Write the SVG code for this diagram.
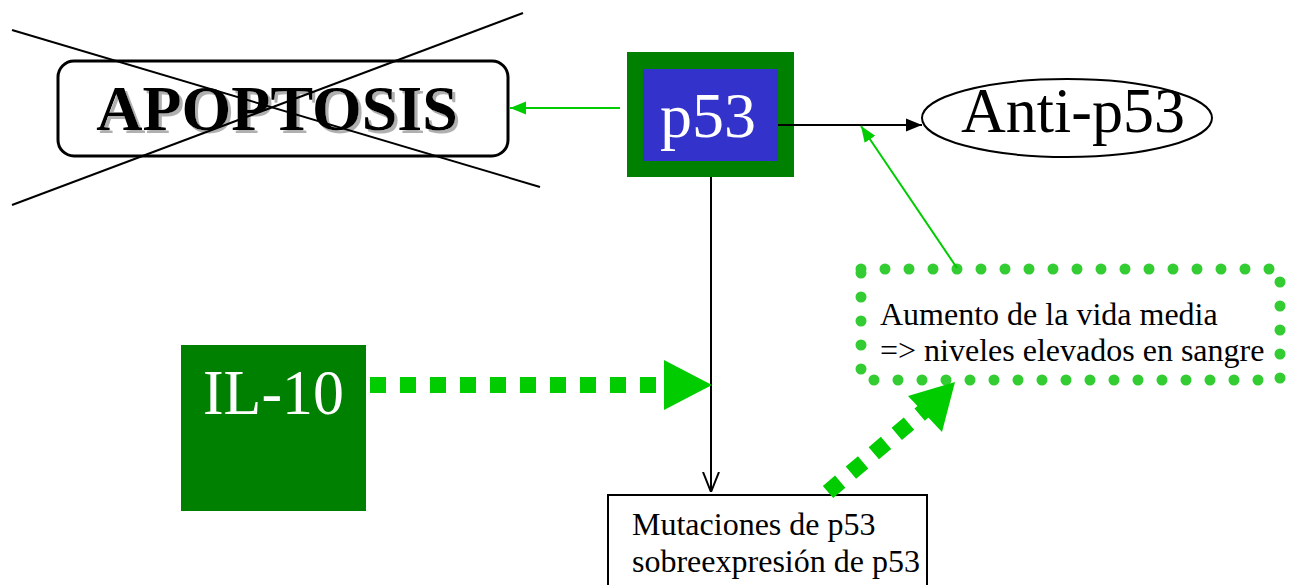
<svg xmlns="http://www.w3.org/2000/svg" width="1296" height="585" viewBox="0 0 1296 585">
  <defs>
    <!-- soft grey drop shadow for the crossed-out title -->
    <filter id="shadow" x="-5%" y="-20%" width="115%" height="150%">
      <feOffset in="SourceAlpha" dx="3" dy="3" result="off"/>
      <feFlood flood-color="#b0b0b0"/>
      <feComposite in2="off" operator="in" result="grey"/>
      <feMerge>
        <feMergeNode in="grey"/>
        <feMergeNode in="SourceGraphic"/>
      </feMerge>
    </filter>
    <marker id="headGreenThin" viewBox="0 0 10 10" refX="10" refY="5" markerWidth="16" markerHeight="16" markerUnits="userSpaceOnUse" orient="auto">
      <path d="M0,1 L10,5 L0,9 z" fill="#00cc00"/>
    </marker>
    <marker id="headBlack" viewBox="0 0 10 10" refX="10" refY="5" markerWidth="16" markerHeight="16" markerUnits="userSpaceOnUse" orient="auto">
      <path d="M0,1 L10,5 L0,9 z" fill="#000"/>
    </marker>
    <marker id="headOpen" viewBox="0 0 10 10" refX="10" refY="5" markerWidth="20" markerHeight="20" markerUnits="userSpaceOnUse" orient="auto">
      <path d="M0,1 L10,5 L0,9" fill="none" stroke="#000" stroke-width="1"/>
    </marker>
  </defs>
  <style>
    .serif { font-family: "Liberation Serif", "Times New Roman", serif; }
    .big { stroke: #00cc00; stroke-width: 16; stroke-dasharray: 16 14; fill: none; }
    .label { font-size: 32px; fill: #000; }
  </style>
  <rect width="1296" height="585" fill="#fff"/>

  <g id="apoptosis">
    <rect x="58" y="61" width="450" height="95" rx="16" fill="#fff" stroke="#000" stroke-width="3"/>
    <text x="277" y="130" text-anchor="middle" class="serif" font-size="64" font-weight="bold" fill="#000" filter="url(#shadow)">APOPTOSIS</text>
    <line x1="12" y1="30" x2="540" y2="187" stroke="#000" stroke-width="2"/>
    <line x1="523" y1="13" x2="12" y2="205" stroke="#000" stroke-width="2"/>
  </g>

  <g id="p53">
    <rect x="627" y="52" width="167" height="125" fill="#008000"/>
    <rect x="643" y="69" width="135" height="92" fill="#3333cc"/>
    <text x="708" y="137" text-anchor="middle" class="serif" font-size="64" fill="#fff">p53</text>
  </g>

  <g id="anti-p53">
    <ellipse cx="1067" cy="118" rx="145" ry="39" fill="#fff" stroke="#000" stroke-width="2"/>
    <text x="961" y="132" class="serif" font-size="63" textLength="224" lengthAdjust="spacingAndGlyphs" fill="#000">Anti-p53</text>
  </g>

  <g id="vida-media">
    <rect x="861" y="269" width="419" height="111" fill="none" stroke="#33cc33" stroke-width="11" stroke-linecap="round" stroke-dasharray="0 24"/>
    <text class="serif label" x="880" y="325">Aumento de la vida media</text>
    <text class="serif label" x="880" y="361">=&gt; niveles elevados en sangre</text>
  </g>

  <g id="il10">
    <rect x="181" y="345" width="185" height="166" fill="#008000"/>
    <text x="203" y="414" class="serif" font-size="63" textLength="141" lengthAdjust="spacingAndGlyphs" fill="#fff">IL-10</text>
  </g>

  <g id="mutaciones">
    <rect x="608" y="495" width="319" height="100" fill="#fff" stroke="#000" stroke-width="2"/>
    <text class="serif label" x="632" y="535">Mutaciones de p53</text>
    <text class="serif label" x="632" y="572">sobreexpresión de p53</text>
  </g>

  <g id="connectors">
    <line x1="620" y1="108" x2="510" y2="108" stroke="#00cc00" stroke-width="2" marker-end="url(#headGreenThin)"/>
    <line x1="778" y1="125" x2="922" y2="125" stroke="#000" stroke-width="2" marker-end="url(#headBlack)"/>
    <line x1="957" y1="268" x2="861" y2="126" stroke="#00cc00" stroke-width="2" marker-end="url(#headGreenThin)"/>
    <line x1="711" y1="177" x2="711" y2="492" stroke="#000" stroke-width="2" marker-end="url(#headOpen)"/>
    <line x1="370" y1="385" x2="668" y2="385" class="big"/>
    <path d="M664,360 L712,385 L664,410 z" fill="#00cc00"/>
    <line x1="828" y1="492" x2="925" y2="410" class="big"/>
    <path d="M908,396 L955,382 L942,432 z" fill="#00cc00"/>
  </g>
</svg>
